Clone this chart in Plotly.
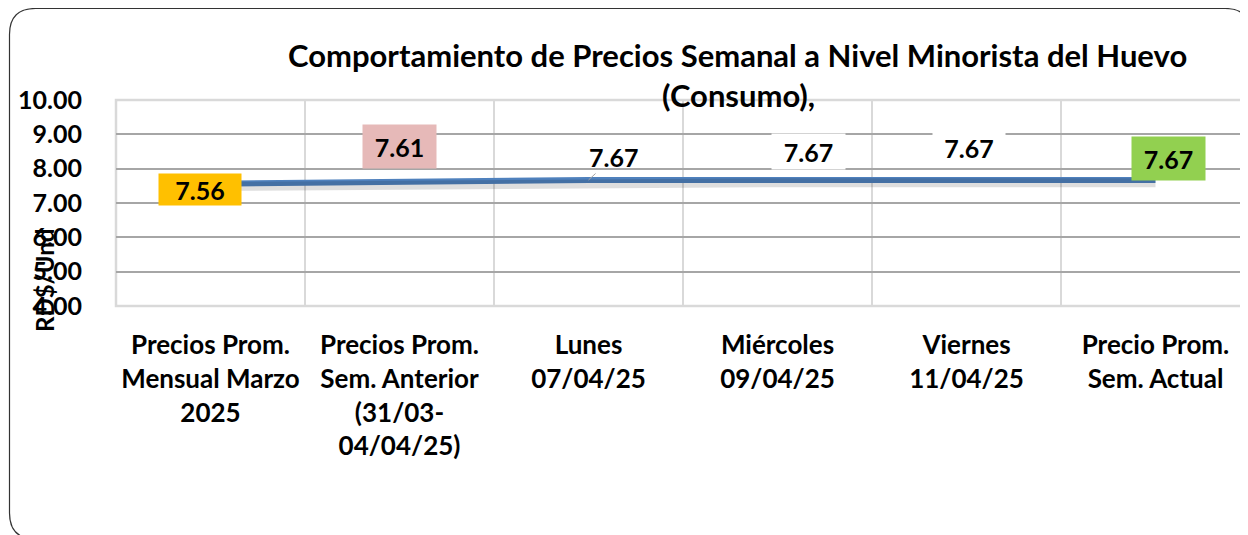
import plotly.graph_objects as go

categories = [
    "Precios Prom.<br>Mensual Marzo<br>2025",
    "Precios Prom.<br>Sem. Anterior<br>(31/03-<br>04/04/25)",
    "Lunes<br>07/04/25",
    "Miércoles<br>09/04/25",
    "Viernes<br>11/04/25",
    "Precio Prom.<br>Sem. Actual",
]
values = [7.56, 7.61, 7.67, 7.67, 7.67, 7.67]
label_texts = ["7.56", "7.61", "7.67", "7.67", "7.67", "7.67"]
y_ticks = [4, 5, 6, 7, 8, 9, 10]
title_line1 = "Comportamiento de Precios Semanal a Nivel Minorista del Huevo"
title_line2 = "(Consumo),"
y_title = "RD$/Und"

# page body has an 8px margin: figure drawn from (8, 8)
OFF = 8
W, H = 1248 - OFF, 535 - OFF
# plot area in screen (reference) pixels
SL, SR, ST, SB = 116, 1248, 100, 306
PL, PR, PT, PB = SL - OFF, SR - OFF, ST - OFF, SB - OFF
FONT = "Lato"


def px(x):  # screen x -> paper
    return (x - SL) / (SR - SL)


def py(y):  # screen y -> paper
    return (SB - y) / (SB - ST)


fig = go.Figure()

# soft shadow under the line (same data on a slightly shifted overlay axis)
fig.add_trace(go.Scatter(
    x=categories, y=values, mode="lines", yaxis="y2",
    line=dict(color="rgba(0,0,0,0.13)", width=9),
    hoverinfo="skip", showlegend=False,
))
fig.add_trace(go.Scatter(
    x=categories, y=values, mode="lines",
    line=dict(color="#4F81BD", width=6),
    showlegend=False,
))

# label styles: (bg, xshift, yshift, width, height, arrow)
label_styles = [
    ("#FFC000", -11, -6, 82, 31, False),
    ("#E6B9B8", 0, 36, 73, 43, False),
    (None, 0, 0, None, None, True),
    ("#FFFFFF", 31, 29, 73, 35, False),
    ("#FFFFFF", 2, 33, 72, 33, False),
    ("#92D050", 13, 22, 73, 43, False),
]

annotations = []
for cat, val, txt, st in zip(categories, values, label_texts, label_styles):
    bg, xs, ys, w, h, arrow = st
    a = dict(x=cat, y=val, xref="x", yref="y", text=f"<b>{txt}</b>",
             font=dict(family=FONT, size=25, color="black"))
    if arrow:
        a.update(showarrow=True, ax=25, ay=-23, arrowhead=0, arrowwidth=1,
                 arrowcolor="#A6A6A6", standoff=0)
    else:
        a.update(showarrow=False, xshift=xs, yshift=ys, bgcolor=bg,
                 width=w, height=h, borderpad=0, align="center", valign="middle")
    annotations.append(a)

annotations.append(dict(
    x=px(737), y=py(55), xref="paper", yref="paper", showarrow=False,
    text=f"<b>{title_line1}</b>", font=dict(family=FONT, size=31, color="black"),
    xanchor="center", yanchor="middle"))
annotations.append(dict(
    x=px(738), y=py(95), xref="paper", yref="paper", showarrow=False,
    text=f"<b>{title_line2}</b>", font=dict(family=FONT, size=31, color="black"),
    xanchor="center", yanchor="middle"))
annotations.append(dict(
    x=px(44), y=py(281), xref="paper", yref="paper", showarrow=False,
    text=f"<b>{y_title}</b>", textangle=-90,
    font=dict(family=FONT, size=24, color="black"),
    xanchor="center", yanchor="middle"))


def rounded_rect(x0, y0, x1, y1, r):
    X = lambda v: px(v)
    Y = lambda v: py(v)
    return (f"M {X(x0 + r)},{Y(y0)} L {X(x1 - r)},{Y(y0)} "
            f"Q {X(x1)},{Y(y0)} {X(x1)},{Y(y0 + r)} "
            f"L {X(x1)},{Y(y1 - r)} Q {X(x1)},{Y(y1)} {X(x1 - r)},{Y(y1)} "
            f"L {X(x0 + r)},{Y(y1)} Q {X(x0)},{Y(y1)} {X(x0)},{Y(y1 - r)} "
            f"L {X(x0)},{Y(y0 + r)} Q {X(x0)},{Y(y0)} {X(x0 + r)},{Y(y0)} Z")


shapes = [
    dict(type="rect", xref="paper", yref="paper", x0=0, x1=px(1252), y0=0, y1=1,
         line=dict(color="#D9D9D9", width=2.5), layer="below"),
    dict(type="path", xref="paper", yref="paper",
         path=rounded_rect(9.5, 8.5, 1251, 539, 26),
         line=dict(color="#333333", width=1.2)),
]

fig.update_layout(
    width=W, height=H,
    margin=dict(l=PL, r=W - PR, t=PT, b=H - PB, pad=0),
    paper_bgcolor="white", plot_bgcolor="white",
    showlegend=False,
    font=dict(family=FONT, color="black"),
    xaxis=dict(
        type="category", range=[-0.5, -0.5 + (SR - SL) / 189.0],
        showgrid=True, gridcolor="#D9D9D9", gridwidth=2,
        tickson="boundaries", ticks="", showline=False, zeroline=False,
        tickfont=dict(family=FONT, size=26, color="black"),
        tickvals=categories,
        ticktext=[f"<b>{c}</b>" for c in categories],
        ticklabelstandoff=21,
    ),
    yaxis=dict(
        range=[4, 10], zeroline=False, showline=False, ticks="",
        showgrid=True, gridcolor="#A6A6A6", gridwidth=1.5,
        tickvals=y_ticks,
        ticktext=[f"<b>{v:.2f}</b>" for v in y_ticks],
        tickfont=dict(family=FONT, size=25, color="black"),
        ticklabelstandoff=33,
    ),
    yaxis2=dict(range=[4 + 0.08, 10 + 0.08], overlaying="y", visible=False),
    annotations=annotations,
    shapes=shapes,
)

fig.write_html("out.html")
